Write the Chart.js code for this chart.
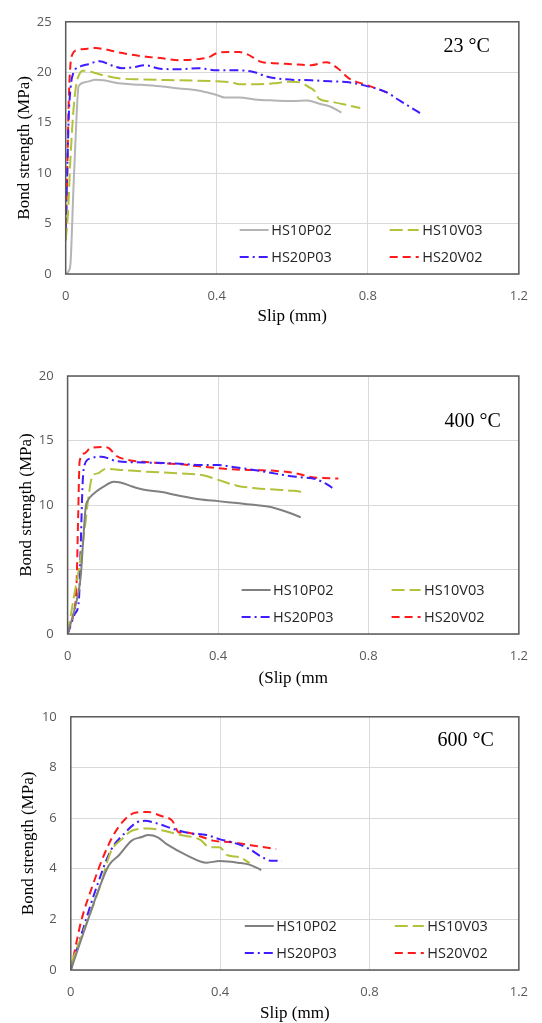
<!DOCTYPE html>
<html><head><meta charset="utf-8">
<script src="https://cdn.jsdelivr.net/npm/chart.js@4.4.1/dist/chart.umd.min.js"></script>
<style>
html,body{margin:0;padding:0;background:#fff;overflow:hidden;width:542px;height:1023px;}
canvas{position:absolute;left:0;}
</style></head><body>
<canvas id="c1" width="542" height="340" style="top:0px"></canvas>
<canvas id="c2" width="542" height="355" style="top:340px"></canvas>
<canvas id="c3" width="542" height="328" style="top:695px"></canvas>
<script>
// ---------- data ----------
const seriesNames = ['HS10P02', 'HS10V03', 'HS20P03', 'HS20V02'];
const panelTitles = ['23 °C', '400 °C', '600 °C'];
const xAxisTitles = ['Slip (mm)', '(Slip (mm', 'Slip (mm)'];
const yAxisTitle = 'Bond strength (MPa)';
const xTicks = [0, 0.4, 0.8, 1.2];
const xTickLabels = ['0', '0.4', '0.8', '1.2'];
const yTicks23 = [0, 5, 10, 15, 20, 25];
const yTicks400 = [0, 5, 10, 15, 20];
const yTicks600 = [0, 2, 4, 6, 8, 10];

// 23 °C
const slip23_HS10P02 = [0, 0.008, 0.013, 0.02, 0.028, 0.034, 0.05, 0.08, 0.1, 0.14, 0.2, 0.25, 0.3, 0.35, 0.38, 0.4, 0.42, 0.46, 0.5, 0.55, 0.6, 0.64, 0.67, 0.7, 0.73];
const bond23_HS10P02 = [0, 0.3, 1.2, 8, 15, 18.6, 19.0, 19.25, 19.2, 18.9, 18.75, 18.6, 18.4, 18.2, 17.95, 17.75, 17.5, 17.5, 17.3, 17.2, 17.15, 17.2, 16.9, 16.6, 16.0];
const slip23_HS10V03 = [0, 0.006, 0.012, 0.02, 0.028, 0.035, 0.045, 0.06, 0.08, 0.1, 0.14, 0.2, 0.3, 0.4, 0.44, 0.46, 0.5, 0.55, 0.59, 0.62, 0.645, 0.66, 0.67, 0.7, 0.75, 0.78];
const bond23_HS10V03 = [3.3, 6, 11, 16, 18.8, 19.7, 20.15, 20.1, 19.9, 19.7, 19.4, 19.3, 19.2, 19.1, 19.0, 18.8, 18.8, 18.9, 19.05, 19.0, 18.5, 18.1, 17.4, 17.1, 16.7, 16.45];
const slip23_HS20P03 = [0, 0.004, 0.008, 0.013, 0.02, 0.04, 0.06, 0.09, 0.12, 0.15, 0.18, 0.21, 0.25, 0.3, 0.35, 0.4, 0.45, 0.5, 0.53, 0.58, 0.65, 0.7, 0.75, 0.8, 0.85, 0.88, 0.91, 0.945];
const bond23_HS20P03 = [4, 10, 15.5, 18.5, 19.9, 20.6, 20.8, 21.1, 20.7, 20.4, 20.5, 20.7, 20.35, 20.3, 20.4, 20.2, 20.2, 20.0, 19.6, 19.3, 19.2, 19.1, 19.0, 18.6, 18.0, 17.3, 16.6, 15.8];
const slip23_HS20V02 = [0, 0.004, 0.008, 0.012, 0.018, 0.03, 0.05, 0.08, 0.1, 0.15, 0.2, 0.25, 0.3, 0.35, 0.38, 0.4, 0.43, 0.46, 0.48, 0.52, 0.55, 0.6, 0.65, 0.69, 0.72, 0.75, 0.8, 0.85, 0.86];
const bond23_HS20V02 = [3.5, 10, 17, 20.5, 21.8, 22.2, 22.3, 22.4, 22.3, 21.9, 21.6, 21.4, 21.2, 21.3, 21.5, 21.9, 22.0, 22.0, 21.8, 21.0, 20.9, 20.8, 20.7, 21.0, 20.4, 19.4, 18.7, 18.0, 17.8];

// 400 °C
const slip400_HS10P02 = [0, 0.02, 0.035, 0.042, 0.048, 0.055, 0.07, 0.1, 0.122, 0.14, 0.17, 0.2, 0.25, 0.3, 0.35, 0.4, 0.45, 0.5, 0.54, 0.58, 0.62];
const bond400_HS10P02 = [0, 2.1, 4.5, 7.5, 9.8, 10.4, 10.9, 11.5, 11.8, 11.75, 11.45, 11.2, 11.0, 10.7, 10.45, 10.3, 10.15, 10.0, 9.85, 9.5, 9.05];
const slip400_HS10V03 = [0, 0.02, 0.03, 0.045, 0.055, 0.066, 0.08, 0.1, 0.15, 0.2, 0.3, 0.36, 0.4, 0.45, 0.5, 0.55, 0.6, 0.63];
const bond400_HS10V03 = [0, 3.4, 5, 8, 10.5, 12.25, 12.45, 12.8, 12.7, 12.6, 12.45, 12.3, 11.95, 11.5, 11.3, 11.2, 11.1, 11.0];
const slip400_HS20P03 = [0, 0.02, 0.03, 0.035, 0.04, 0.045, 0.06, 0.09, 0.11, 0.13, 0.2, 0.3, 0.35, 0.4, 0.45, 0.5, 0.54, 0.58, 0.62, 0.66, 0.69, 0.71];
const bond400_HS20P03 = [0, 1.6, 2.6, 7, 11.7, 13.1, 13.6, 13.75, 13.6, 13.4, 13.3, 13.2, 13.1, 13.1, 12.9, 12.7, 12.5, 12.3, 12.15, 12.0, 11.6, 11.2];
const slip400_HS20V02 = [0, 0.015, 0.024, 0.028, 0.032, 0.045, 0.06, 0.09, 0.11, 0.13, 0.16, 0.2, 0.3, 0.35, 0.4, 0.45, 0.5, 0.55, 0.6, 0.63, 0.65, 0.68, 0.72];
const bond400_HS20V02 = [0, 1.5, 4, 9, 13.4, 14.0, 14.4, 14.5, 14.4, 13.8, 13.5, 13.35, 13.15, 13.0, 12.85, 12.75, 12.7, 12.65, 12.5, 12.3, 12.15, 12.1, 12.05];

// 600 °C
const slip600_HS10P02 = [0, 0.033, 0.076, 0.102, 0.129, 0.163, 0.19, 0.207, 0.233, 0.259, 0.311, 0.364, 0.398, 0.451, 0.48, 0.51];
const bond600_HS10P02 = [0, 1.42, 3.23, 4.14, 4.53, 5.11, 5.25, 5.33, 5.24, 4.95, 4.53, 4.24, 4.3, 4.23, 4.15, 3.95];
const slip600_HS10V03 = [0, 0.033, 0.076, 0.107, 0.137, 0.163, 0.207, 0.25, 0.294, 0.346, 0.372, 0.398, 0.42, 0.451, 0.479];
const bond600_HS10V03 = [0.2, 1.5, 3.2, 4.66, 5.17, 5.5, 5.59, 5.5, 5.33, 5.15, 4.85, 4.85, 4.53, 4.46, 4.22];
const slip600_HS20P03 = [0, 0.029, 0.068, 0.107, 0.146, 0.176, 0.198, 0.233, 0.277, 0.32, 0.364, 0.398, 0.433, 0.477, 0.512, 0.538, 0.565];
const bond600_HS20P03 = [0, 1.43, 3.23, 4.72, 5.43, 5.82, 5.89, 5.78, 5.56, 5.4, 5.33, 5.17, 5.04, 4.79, 4.46, 4.31, 4.31];
const slip600_HS20V02 = [0, 0.028, 0.059, 0.085, 0.111, 0.137, 0.172, 0.207, 0.242, 0.272, 0.29, 0.311, 0.346, 0.381, 0.433, 0.486, 0.55];
const bond600_HS20V02 = [0, 1.94, 3.36, 4.4, 5.24, 5.82, 6.21, 6.24, 6.08, 5.89, 5.43, 5.43, 5.28, 5.11, 5.04, 4.92, 4.78];

// ---------- chart building ----------
const SANS = '"Open Sans", "Liberation Sans", sans-serif';
const SERIF = '"Liberation Serif", "DejaVu Serif", serif';

function pts(xs, ys) { return xs.map((x, i) => ({ x: x, y: ys[i] })); }

const framePlugin = {
  id: 'frame',
  afterDatasetsDraw(chart, args, opts) {
    const ctx = chart.ctx, a = chart.chartArea;
    ctx.save();
    ctx.strokeStyle = '#595959';
    ctx.lineWidth = 1.5;
    ctx.setLineDash([]);
    ctx.strokeRect(a.left, a.top, a.right - a.left, a.bottom - a.top);
    // panel label
    ctx.font = '20px ' + SERIF;
    ctx.fillStyle = '#000';
    ctx.textAlign = 'right';
    ctx.textBaseline = 'middle';
    ctx.fillText(opts.title, a.right - opts.titleDx, a.top + opts.titleDy);
    // legend
    const cols = [[174, 203, 205.5], [324, 353, 356.5]];
    const rows = [a.bottom - 44, a.bottom - 17];
    chart.data.datasets.forEach((ds, i) => {
      const c = cols[i % 2], y = rows[Math.floor(i / 2)];
      ctx.beginPath();
      ctx.setLineDash(ds.borderDash || []);
      ctx.strokeStyle = ds.borderColor;
      ctx.lineWidth = ds.borderWidth;
      ctx.moveTo(a.left + c[0], y);
      ctx.lineTo(a.left + c[1], y);
      ctx.stroke();
      ctx.setLineDash([]);
      ctx.font = '14.5px ' + SANS;
      ctx.fillStyle = '#262626';
      ctx.textAlign = 'left';
      ctx.textBaseline = 'middle';
      ctx.fillText(ds.label, a.left + c[2], y + 1);
    });
    ctx.restore();
  }
};

function build(id, p) {
  const styles = [
    { color: p.gray, dash: [] , width: 2},
    { color: '#b3c23a', dash: [13, 5], width: 2 },
    { color: '#3d1cff', dash: [9, 4, 2, 4], width: 2 },
    { color: '#ff1a1a', dash: [8, 5], width: 2 }
  ];
  const datasets = p.series.map((s, i) => ({
    label: seriesNames[i],
    data: pts(s[0], s[1]),
    borderColor: styles[i].color,
    borderWidth: styles[i].width,
    borderDash: styles[i].dash,
    pointRadius: 0,
    fill: false,
    cubicInterpolationMode: 'monotone'
  }));
  const yT = p.yTicks;
  return new Chart(document.getElementById(id), {
    type: 'line',
    data: { datasets },
    plugins: [framePlugin],
    options: {
      responsive: false,
      animation: false,
      layout: { padding: { top: p.padTop, right: p.padRight, bottom: p.padBottom, left: 0 } },
      plugins: {
        legend: { display: false },
        tooltip: { enabled: false },
        frame: { title: p.title, titleDx: p.titleDx, titleDy: p.titleDy }
      },
      scales: {
        x: {
          type: 'linear', min: 0, max: 1.2,
          afterBuildTicks: s => { s.ticks = xTicks.map(v => ({ value: v })); },
          afterFit: s => { s.height = p.xAxisH; },
          ticks: {
            callback: (v, i) => xTickLabels[i],
            font: { family: SANS, size: 13 }, color: '#595959', padding: 14, maxRotation: 0
          },
          grid: { color: '#d9d9d9', lineWidth: 1, drawTicks: false },
          border: { display: false },
          title: { display: true, text: p.xTitle, color: '#000',
                   font: { family: SERIF, size: 17, lineHeight: 1 },
                   padding: { top: 0, bottom: p.xTitlePad } }
        },
        y: {
          type: 'linear', min: yT[0], max: yT[yT.length - 1],
          afterBuildTicks: s => { s.ticks = yT.map(v => ({ value: v })); },
          afterFit: s => { s.width = p.yAxisW; },
          ticks: {
            callback: (v, i) => String(yT[i]),
            font: { family: SANS, size: 13 }, color: '#595959', padding: 14
          },
          grid: { color: '#d9d9d9', lineWidth: 1, drawTicks: false },
          border: { display: false },
          title: { display: true, text: yAxisTitle, color: '#000',
                   font: { family: SERIF, size: 17, lineHeight: 1 },
                   padding: { top: p.yTitlePad, bottom: 0 } }
        }
      }
    }
  });
}

build('c1', {
  title: panelTitles[0], titleDx: 29, titleDy: 25, xTitle: xAxisTitles[0], yTicks: yTicks23,
  gray: '#b4b4b4', padTop: 15, padRight: 17, padBottom: 12, xAxisH: 54, yAxisW: 65.7,
  xTitlePad: 2.5, yTitlePad: 16.5,
  series: [[slip23_HS10P02, bond23_HS10P02], [slip23_HS10V03, bond23_HS10V03],
           [slip23_HS20P03, bond23_HS20P03], [slip23_HS20V02, bond23_HS20V02]]
});
build('c2', {
  title: panelTitles[1], titleDx: 18, titleDy: 46, xTitle: xAxisTitles[1], yTicks: yTicks400,
  gray: '#808080', padTop: 36, padRight: 15, padBottom: 7, xAxisH: 54, yAxisW: 67.6,
  xTitlePad: 0.5, yTitlePad: 18.3,
  series: [[slip400_HS10P02, bond400_HS10P02], [slip400_HS10V03, bond400_HS10V03],
           [slip400_HS20P03, bond400_HS20P03], [slip400_HS20V02, bond400_HS20V02]]
});
build('c3', {
  title: panelTitles[2], titleDx: 25, titleDy: 24.4, xTitle: xAxisTitles[2], yTicks: yTicks600,
  gray: '#808080', padTop: 17.3, padRight: 12, padBottom: 0, xAxisH: 53, yAxisW: 70.8,
  xTitlePad: 0.5, yTitlePad: 20.4,
  series: [[slip600_HS10P02, bond600_HS10P02], [slip600_HS10V03, bond600_HS10V03],
           [slip600_HS20P03, bond600_HS20P03], [slip600_HS20V02, bond600_HS20V02]]
});
</script>
</body></html>
